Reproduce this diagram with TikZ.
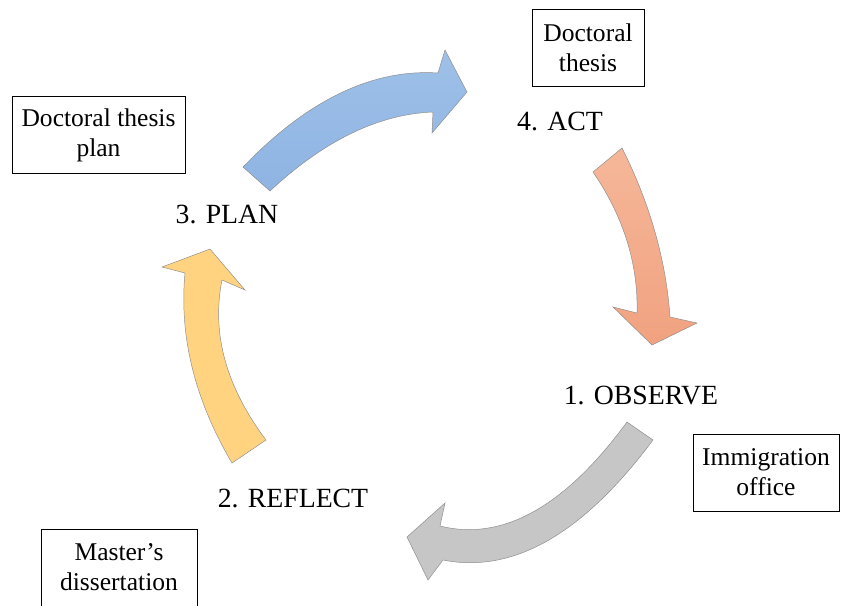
\documentclass[tikz,border=0pt]{standalone}
\usepackage{fontspec}
\setmainfont{Liberation Serif}

\definecolor{planblue}{RGB}{143,180,227}
\definecolor{planbluelight}{RGB}{158,192,232}
\definecolor{actorange}{RGB}{241,162,128}
\definecolor{actorangelight}{RGB}{245,183,153}
\definecolor{observegray}{RGB}{198,198,198}
\definecolor{reflectyellow}{RGB}{255,211,128}

\begin{document}
\begin{tikzpicture}[x=0.03cm, y=-0.03cm,
		stage/.style={anchor=base, font=\fontsize{23.7}{28}\selectfont},
		notebox/.style={draw, line width=0.7pt, align=center, minimum height=2.31cm, font=\fontsize{21.8}{25.6}\selectfont},
		cyclearrow/.style={draw=black!45, line width=0.4pt}]
		\useasboundingbox (0,0) rectangle (841,605);
		% Plan -> Act arrow (Blue)
		\draw[cyclearrow, top color=planbluelight, bottom color=planblue] (243,167) .. controls (307.3,100.1) and (372.3,68.7) .. (438,73) -- (445,50) -- (467,92) -- (432,133) -- (433,112) .. controls (378.7,114.1) and (324.3,140.4) .. (270,191) -- cycle;
		% Act -> Observe arrow (Orange)
		\draw[cyclearrow, top color=actorangelight, bottom color=actorange] (593,172) .. controls (623.7,217) and (638.3,264) .. (637,313) -- (613,307) -- (652,345) -- (697,323) -- (670,317) .. controls (666,260) and (650,203.7) .. (622,148) -- cycle;
		% Observe -> Reflect arrow (Gray)
		\draw[cyclearrow, fill=observegray] (653,440) .. controls (583,534) and (513,574) .. (443,560) -- (428,580) -- (407,537) -- (445,503) -- (440,526) .. controls (502.3,541.6) and (564.7,506.9) .. (627,422) -- cycle;
		% Reflect -> Plan arrow (Yellow)
		\draw[cyclearrow, fill=reflectyellow] (232,463) .. controls (194.7,399.7) and (179,336.3) .. (185,273) -- (162,267) -- (210,249) -- (245,290) -- (222,280) .. controls (211.3,333.3) and (226,386.7) .. (266,440) -- cycle;
		% Stage labels
		\node[stage] (observe) at (641,404) {1. OBSERVE};
		\node[stage] (reflect) at (293,507) {2. REFLECT};
		\node[stage] (plan) at (227,223) {3. PLAN};
		\node[stage] (act) at (560,130) {4. ACT};
		% Boxes with the outcome of each stage
		\node[notebox, minimum width=3.36cm] (thesis) at (588,47.5) {Doctoral\\thesis};
		\node[notebox, minimum width=5.19cm] (thesisplan) at (98.5,135) {Doctoral thesis\\plan};
		\node[notebox, minimum width=4.38cm] (office) at (766,472.5) {Immigration\\office};
		\node[notebox, minimum width=4.68cm] (dissertation) at (119,567.5) {Master’s\\dissertation};
	\end{tikzpicture}
\end{document}
